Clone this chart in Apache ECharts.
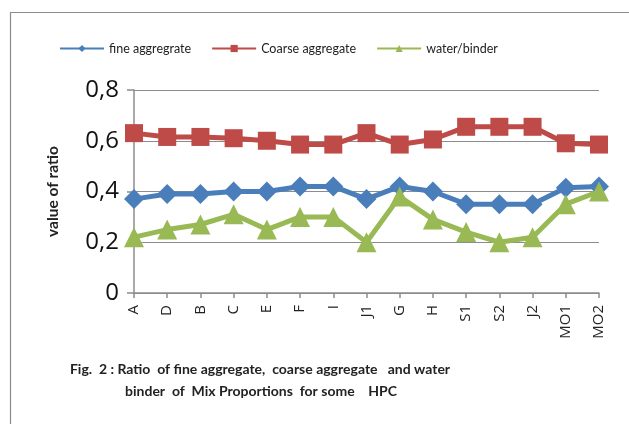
<!DOCTYPE html>
<html><head><meta charset="utf-8">
<script src="https://cdn.jsdelivr.net/npm/echarts@6/dist/echarts.min.js"></script>
<style>html,body{margin:0;padding:0;background:#fff}#c{width:629px;height:424px}</style>
</head><body><div id="c"></div>
<script>
var categories = ['A','D','B','C','E','F','I','J1','G','H','S1','S2','J2','MO1','MO2'];
var fineAggregate = [0.37,0.39,0.39,0.40,0.40,0.42,0.42,0.37,0.42,0.40,0.35,0.35,0.35,0.415,0.42];
var coarseAggregate = [0.63,0.615,0.615,0.61,0.60,0.585,0.585,0.63,0.585,0.605,0.655,0.655,0.655,0.59,0.585];
var waterBinder = [0.22,0.25,0.27,0.31,0.25,0.30,0.30,0.20,0.38,0.29,0.24,0.20,0.22,0.35,0.40];
var yTicks = [0,0.2,0.4,0.6,0.8];
var captionLines = ['Fig.  2 : Ratio  of fine aggregate,  coarse aggregate   and water', 'binder  of  Mix Proportions  for some    HPC'];

var font = 'Lato,"Open Sans",sans-serif';
var font2 = '"Open Sans",sans-serif';
var chart = echarts.init(document.getElementById('c'), null, {renderer:'canvas'});
function s(name, data, color, symbol, size){
  return {name:name,type:'line',data:data,symbol:symbol,symbolSize:size,
    lineStyle:{color:color,width:5},itemStyle:{color:color},
    emphasis:{disabled:true},animation:false};
}
chart.setOption({
  animation:false,
  graphic:[
    {type:'rect',shape:{x:10.5,y:12.5,width:640,height:440},style:{fill:'none',stroke:'#8c8c8c',lineWidth:1.2}},
    {type:'text',x:260,y:362,style:{text:captionLines[0],font:'bold 14px '+font,fill:'#222',textAlign:'center'}},
    {type:'text',x:261,y:384,style:{text:captionLines[1],font:'bold 14px '+font,fill:'#222',textAlign:'center'}}
  ],
  legend:{top:37,left:54,itemWidth:44,itemHeight:9,itemGap:20,
    textStyle:{fontFamily:font,fontSize:12.5,color:'#222'},
    data:['fine aggregrate','Coarse aggregate','water/binder']},
  grid:{left:134,right:30,top:90,bottom:131},
  xAxis:{type:'category',data:categories,boundaryGap:false,
    axisLine:{lineStyle:{color:'#8c8c8c',width:1.5}},
    axisTick:{show:true,alignWithLabel:true,length:5,lineStyle:{color:'#8c8c8c',width:1.5}},
    axisLabel:{rotate:90,fontFamily:font2,fontSize:15,color:'#222',margin:12}},
  yAxis:{type:'value',min:0,max:0.8,interval:0.2,
    name:'value of ratio',nameLocation:'middle',nameGap:73,nameRotate:90,
    nameTextStyle:{fontFamily:font,fontSize:15.5,fontWeight:'bold',color:'#222'},
    axisLine:{show:true,lineStyle:{color:'#8c8c8c',width:1.5}},
    axisTick:{show:true,length:7,lineStyle:{color:'#8c8c8c',width:1.5}},
    splitLine:{lineStyle:{color:'#8c8c8c',width:1.2}},
    axisLabel:{fontFamily:font2,fontSize:24,color:'#111',margin:15,
      formatter:function(v){return String(Math.round(v*10)/10).replace('.',',');}}},
  series:[
    s('fine aggregrate',fineAggregate,'#4a7ebb','diamond',20),
    s('Coarse aggregate',coarseAggregate,'#be4b48','rect',18),
    s('water/binder',waterBinder,'#98b954','triangle',20)
  ]
});
</script></body></html>
